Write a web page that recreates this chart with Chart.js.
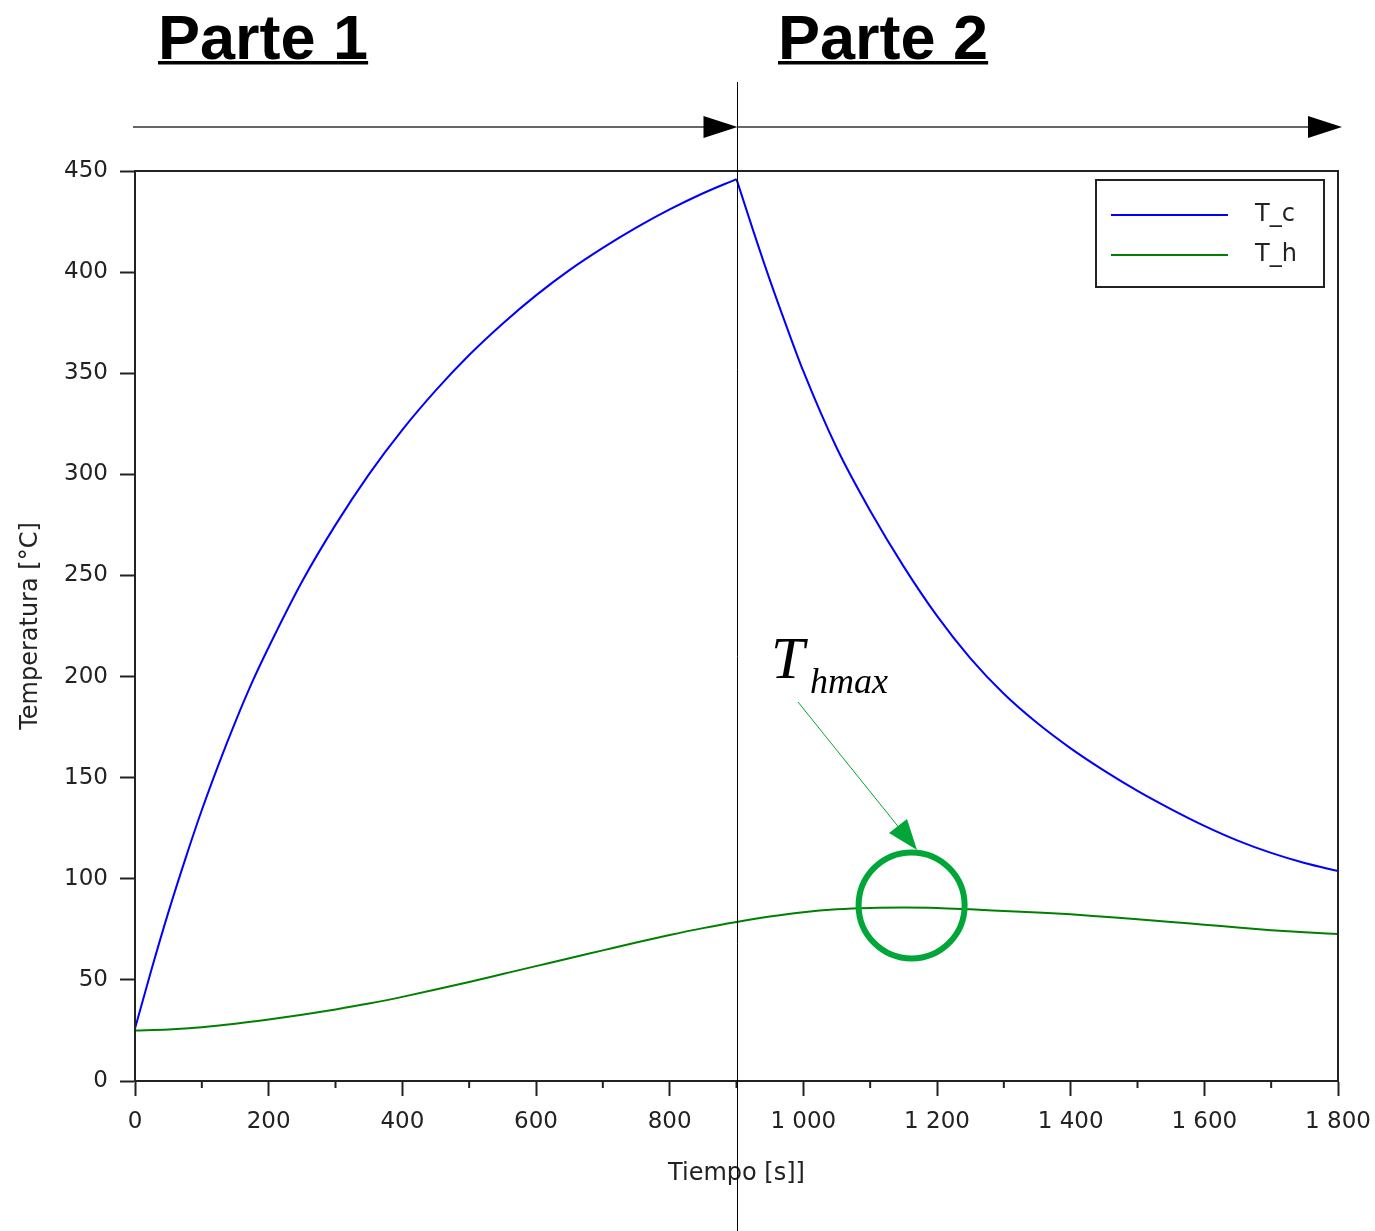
<!DOCTYPE html>
<html>
<head>
<meta charset="utf-8">
<script src="https://cdn.jsdelivr.net/npm/chart.js@4.4.1/dist/chart.umd.min.js"></script>
<style>
  html, body { margin: 0; padding: 0; background: #fff; overflow: hidden; }
  #wrap { position: relative; width: 1375px; height: 1231px; }
</style>
</head>
<body>
<div id="wrap"><canvas id="c"></canvas></div>
<script>
// ---- data ----
const seriesNames = ['T_c', 'T_h'];
// heating part (0–900 s) and cooling part (900–1800 s) of T_c
const tcHeatTime   = [0, 25, 50, 75, 100, 125, 150, 175, 200, 250, 300, 350, 400, 450, 500, 550, 600, 650, 700, 750, 800, 850, 900];
const tcHeatValues = [26, 55.5, 83.5, 109.5, 134, 156.5, 177.5, 197, 214.5, 247, 275, 300, 322, 341.5, 359, 374.5, 388.5, 401, 412, 422, 431, 439, 446];
const tcCoolTime   = [900, 925, 950, 975, 1000, 1050, 1100, 1150, 1200, 1250, 1300, 1350, 1400, 1450, 1500, 1550, 1600, 1650, 1700, 1750, 1800];
const tcCoolValues = [446, 420.5, 396, 373, 351, 313, 282, 254.5, 230, 209, 191.5, 177, 164.5, 153.5, 143.5, 134.5, 126.2, 118.9, 112.8, 107.8, 103.8];
const thTime   = [0, 50, 100, 150, 200, 250, 300, 350, 400, 450, 500, 550, 600, 650, 700, 750, 800, 850, 900,
                  950, 1000, 1050, 1100, 1150, 1200, 1250, 1300, 1350, 1400, 1450, 1500, 1550, 1600, 1650, 1700, 1750, 1800];
const thValues = [25, 25.5, 26.6, 28.3, 30.4, 32.8, 35.4, 38.3, 41.6, 45.2, 49.0, 52.9, 56.8, 60.7, 64.6, 68.5, 72.2, 75.6, 78.6,
                  81.3, 83.5, 84.9, 85.6, 85.8, 85.6, 84.9, 84.1, 83.3, 82.4, 81.2, 80, 78.6, 77.3, 75.9, 74.6, 73.5, 72.7];
const xTickValues  = [0, 200, 400, 600, 800, 1000, 1200, 1400, 1600, 1800];
const xMinorTicks  = [100, 300, 500, 700, 900, 1100, 1300, 1500, 1700];
const yTickValues  = [0, 50, 100, 150, 200, 250, 300, 350, 400, 450];
const partLabels   = ['Parte 1', 'Parte 2'];
const partBoundary = 900;
const peakMark     = { t: 1162, T: 86.8 };
const xTitle = 'Tiempo [s]]';
const yTitle = 'Temperatura [°C]';

const colors = ['#0000ff', '#008000'];
const annotGreen = '#00a638';

function fmtThousands(v) {
  return String(v).replace(/\B(?=(\d{3})+(?!\d))/g, ' ');
}

// T_c: heating branch, a break (sharp corner at the switch), cooling branch
const tcData = tcHeatTime.map((t, i) => ({ x: t, y: tcHeatValues[i] }))
  .concat([{ x: partBoundary, y: null }])
  .concat(tcCoolTime.map((t, i) => ({ x: t, y: tcCoolValues[i] })));
const thData = thTime.map((t, i) => ({ x: t, y: thValues[i] }));

// legend line images
function lineImage(color) {
  const cv = document.createElement('canvas');
  cv.width = 132; cv.height = 4;
  const g = cv.getContext('2d');
  g.strokeStyle = color; g.lineWidth = 2;
  g.beginPath(); g.moveTo(0, 2); g.lineTo(117, 2); g.stroke();
  return cv;
}
const legendImgs = colors.map(lineImage);

function arrow(ctx, x0, x1, y) {
  ctx.beginPath();
  ctx.moveTo(x0, y); ctx.lineTo(x1 - 30, y);
  ctx.stroke();
  ctx.beginPath();
  ctx.moveTo(x1 - 34, y - 11); ctx.lineTo(x1, y); ctx.lineTo(x1 - 34, y + 11); ctx.closePath();
  ctx.fill();
}

const deco = {
  id: 'deco',
  afterLayout(chart) {
    const lg = chart.legend, ca = chart.chartArea;
    const pad = lg.options.labels.padding;
    lg.left = ca.right - 227 - pad;
    lg.top = ca.top + 16;
    lg.right = lg.left + lg.width;
    lg.bottom = lg.top + lg.height;
  },
  afterDraw(chart) {
    const ctx = chart.ctx, ca = chart.chartArea, xs = chart.scales.x, ys = chart.scales.y;
    ctx.save();
    // plot frame
    ctx.strokeStyle = '#222'; ctx.lineWidth = 2;
    ctx.strokeRect(ca.left, ca.top, ca.right - ca.left, ca.bottom - ca.top);
    // minor x ticks
    ctx.beginPath();
    xMinorTicks.forEach(v => {
      const px = xs.getPixelForValue(v);
      ctx.moveTo(px, ca.bottom); ctx.lineTo(px, ca.bottom + 7);
    });
    ctx.stroke();
    // legend frame
    ctx.strokeRect(ca.right - 242, ca.top + 9, 228, 107);

    // divider line
    const xd = Math.round(xs.getPixelForValue(partBoundary)) + 0.5;
    ctx.strokeStyle = '#000'; ctx.lineWidth = 1;
    ctx.beginPath(); ctx.moveTo(xd, 82); ctx.lineTo(xd, chart.height); ctx.stroke();

    // arrows
    ctx.strokeStyle = '#333'; ctx.fillStyle = '#000'; ctx.lineWidth = 1.5;
    const ay = ca.top - 44;
    arrow(ctx, ca.left - 2, xd, ay);
    arrow(ctx, xd, ca.right + 4, ay);

    // part titles
    ctx.fillStyle = '#000';
    ctx.font = 'bold 63px "Liberation Sans", Arial, sans-serif';
    ctx.textBaseline = 'alphabetic'; ctx.textAlign = 'left';
    const px = [158, 778];
    partLabels.forEach((s, i) => {
      ctx.fillText(s, px[i], 59);
      const w = ctx.measureText(s).width;
      ctx.fillRect(px[i], 61, w, 3.5);
    });

    // T_hmax annotation
    ctx.font = 'italic 60px "Liberation Serif", "DejaVu Serif", serif';
    ctx.fillText('T', 771, 678);
    ctx.font = 'italic 36px "Liberation Serif", "DejaVu Serif", serif';
    ctx.fillText('hmax', 810, 693);

    const cx = xs.getPixelForValue(peakMark.t), cy = ys.getPixelForValue(peakMark.T);
    ctx.strokeStyle = annotGreen; ctx.fillStyle = annotGreen;
    ctx.lineWidth = 1;
    ctx.beginPath(); ctx.moveTo(798, 702); ctx.lineTo(905, 835); ctx.stroke();
    ctx.beginPath();
    ctx.moveTo(917, 850); ctx.lineTo(889, 833); ctx.lineTo(907, 819); ctx.closePath(); ctx.fill();
    ctx.lineWidth = 6;
    ctx.beginPath(); ctx.arc(cx, cy, 53, 0, Math.PI * 2); ctx.stroke();
    ctx.restore();
  }
};

const tickFont = { family: '"DejaVu Sans", sans-serif', size: 23 };
const titleFont = { family: '"DejaVu Sans", sans-serif', size: 24 };

new Chart(document.getElementById('c'), {
  type: 'line',
  data: {
    datasets: [
      { label: seriesNames[0], data: tcData,
        borderColor: colors[0], backgroundColor: colors[0], borderWidth: 2, pointRadius: 0,
        cubicInterpolationMode: 'monotone', spanGaps: false, fill: false },
      { label: seriesNames[1], data: thData,
        borderColor: colors[1], backgroundColor: colors[1], borderWidth: 2, pointRadius: 0,
        cubicInterpolationMode: 'monotone', fill: false }
    ]
  },
  options: {
    responsive: true,
    maintainAspectRatio: false,
    animation: false,
    devicePixelRatio: 1,
    layout: { padding: { top: 171, right: 37, bottom: 0, left: 0 } },
    plugins: {
      tooltip: { enabled: false },
      legend: {
        position: 'chartArea',
        align: 'start',
        labels: {
          usePointStyle: true,
          pointStyleWidth: 132,
          padding: 16,
          color: '#222',
          font: { family: '"DejaVu Sans", sans-serif', size: 24 },
          generateLabels(chart) {
            const items = Chart.defaults.plugins.legend.labels.generateLabels(chart);
            items.forEach((it, i) => { it.pointStyle = legendImgs[i]; });
            return items;
          }
        }
      }
    },
    scales: {
      x: {
        type: 'linear', min: 0, max: 1800,
        afterBuildTicks(scale) { scale.ticks = xTickValues.map(v => ({ value: v })); },
        afterFit(scale) { scale.height = 150; scale.paddingLeft = 0; scale.paddingRight = 0; },
        grid: { drawOnChartArea: false, drawTicks: true, tickLength: 15, tickColor: '#222', tickWidth: 2 },
        border: { display: true, color: '#222', width: 2 },
        ticks: { color: '#222', font: tickFont, padding: 12, maxRotation: 0, autoSkip: false,
                 callback: v => fmtThousands(v) },
        title: { display: true, text: xTitle, color: '#222', font: titleFont, padding: { top: 0, bottom: 43 } }
      },
      y: {
        type: 'linear', min: 0, max: 450,
        afterBuildTicks(scale) { scale.ticks = yTickValues.map(v => ({ value: v })); },
        afterFit(scale) { scale.width = 135; scale.paddingTop = 0; scale.paddingBottom = 0; },
        grid: { drawOnChartArea: false, drawTicks: true, tickLength: 15, tickColor: '#222', tickWidth: 2 },
        border: { display: true, color: '#222', width: 2 },
        ticks: { color: '#222', font: tickFont, padding: 12, autoSkip: false, callback: v => String(v) },
        title: { display: true, text: yTitle, color: '#222', font: titleFont, padding: { top: 16, bottom: 0 } }
      }
    }
  },
  plugins: [deco]
});
</script>
</body>
</html>
